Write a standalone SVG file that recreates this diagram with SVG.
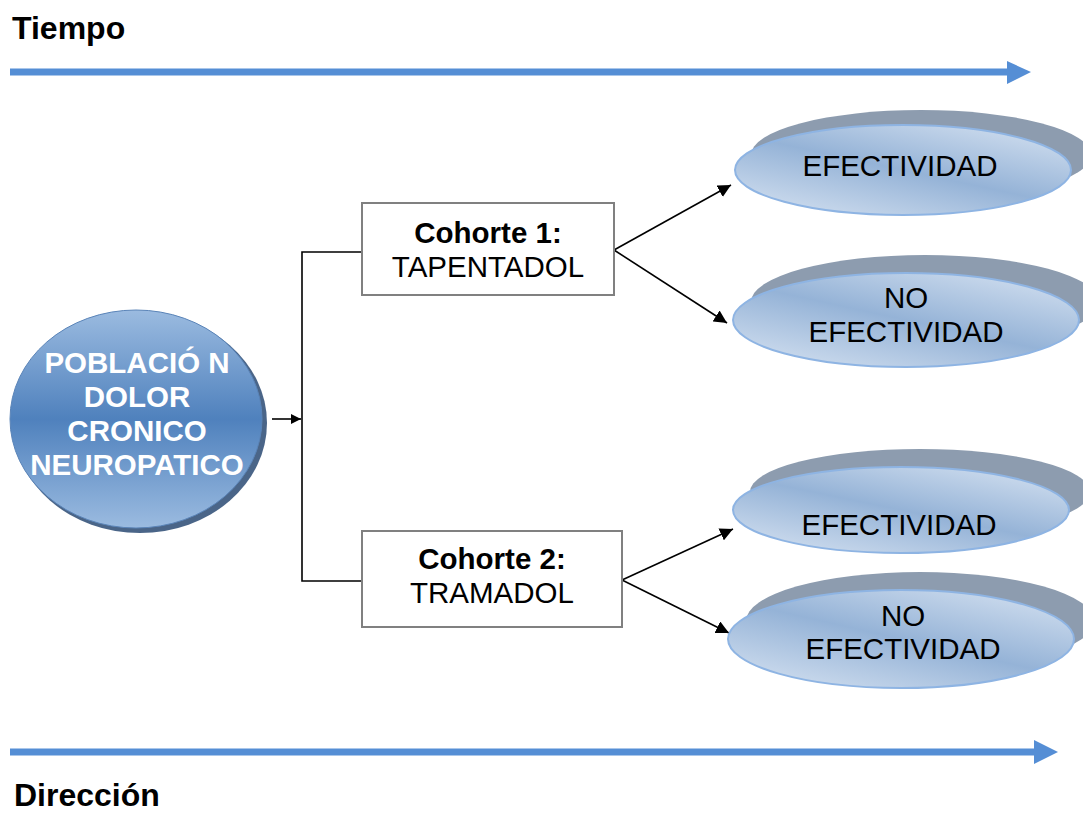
<svg xmlns="http://www.w3.org/2000/svg" width="1083" height="813" viewBox="0 0 1083 813">
<defs>
<linearGradient id="circGrad" x1="0" y1="0" x2="0" y2="1">
<stop offset="0" stop-color="#9bbbe0"/>
<stop offset="0.5" stop-color="#4f81bd"/>
<stop offset="1" stop-color="#9bbbe0"/>
</linearGradient>
<linearGradient id="ellGrad" x1="0.9" y1="0" x2="0.1" y2="1">
<stop offset="0" stop-color="#d3e0f0"/>
<stop offset="0.5" stop-color="#95b3d7"/>
<stop offset="1" stop-color="#d3e0f0"/>
</linearGradient>
<marker id="ah" viewBox="0 0 10 10" refX="10" refY="5" markerWidth="10" markerHeight="10" markerUnits="userSpaceOnUse" orient="auto">
<path d="M0,0 L10,5 L0,10 Z" fill="#000"/>
</marker>
<marker id="ahs" viewBox="0 0 10 10" refX="10" refY="5" markerWidth="13" markerHeight="13" markerUnits="userSpaceOnUse" orient="auto">
<path d="M0,0 L10,5 L0,10 Z" fill="#000"/>
</marker>
</defs>
<style>
.title{font-family:"Liberation Sans",Arial,sans-serif;font-weight:bold;font-size:32px;fill:#000}
.box{fill:#fff;stroke:#808080;stroke-width:2}
.bt{font-family:"Liberation Sans",Arial,sans-serif;font-size:29.5px;fill:#000;text-anchor:middle}
.bold{font-weight:bold}
.ell{fill:url(#ellGrad);stroke:#8eb4e3;stroke-width:2}
.shadow{fill:#8d9caf}
.ct{font-family:"Liberation Sans",Arial,sans-serif;font-size:29.5px;font-weight:bold;fill:#fff;text-anchor:middle}
.conn{stroke:#000;stroke-width:1.6;fill:none}
.blue{stroke:#558ed5;stroke-width:7;fill:none}
</style>
<rect width="1083" height="813" fill="#fff"/>

<g id="timeline-top">
<text class="title" x="12" y="39">Tiempo</text>
<line class="blue" x1="10" y1="72" x2="1008" y2="72"/>
<path d="M1007,61 L1031,72 L1007,84 Z" fill="#558ed5"/>
</g>

<g id="timeline-bottom">
<line class="blue" x1="10" y1="752" x2="1035" y2="752"/>
<path d="M1034,740 L1058,752 L1034,764 Z" fill="#558ed5"/>
<text class="title" x="14" y="806">Dirección</text>
</g>

<g id="connectors">
<line class="conn" x1="272" y1="419" x2="301" y2="419" marker-end="url(#ah)"/>
<polyline class="conn" points="362,252 302,252 302,581 362,581"/>
<line class="conn" x1="614" y1="250" x2="731" y2="185" marker-end="url(#ahs)"/>
<line class="conn" x1="614" y1="250" x2="727" y2="323" marker-end="url(#ahs)"/>
<line class="conn" x1="622" y1="580" x2="733" y2="529" marker-end="url(#ahs)"/>
<line class="conn" x1="622" y1="580" x2="729" y2="633" marker-end="url(#ahs)"/>
</g>

<g id="poblacion">
<ellipse cx="140" cy="423" rx="127" ry="110" fill="#2a4a73" opacity="0.85"/>
<ellipse cx="136" cy="419" rx="126" ry="109" fill="url(#circGrad)" stroke="#5a84b8" stroke-width="1"/>
<text class="ct" x="137" y="373">POBLACIÓ N</text>
<text class="ct" x="137" y="407">DOLOR</text>
<text class="ct" x="137" y="441">CRONICO</text>
<text class="ct" x="137" y="475">NEUROPATICO</text>
</g>

<g id="cohorte1">
<rect class="box" x="362" y="203" width="252" height="92"/>
<text class="bt bold" x="488" y="243">Cohorte 1:</text>
<text class="bt" x="488" y="277">TAPENTADOL</text>
</g>

<g id="cohorte2">
<rect class="box" x="362" y="531" width="260" height="96"/>
<text class="bt bold" x="492" y="569">Cohorte 2:</text>
<text class="bt" x="492" y="603">TRAMADOL</text>
</g>

<g id="efectividad1">
<ellipse class="shadow" cx="921" cy="155" rx="170" ry="45"/>
<ellipse class="ell" cx="903" cy="170" rx="168" ry="45"/>
<text class="bt" x="900" y="176">EFECTIVIDAD</text>
</g>

<g id="noefectividad1">
<ellipse class="shadow" cx="925" cy="302" rx="174" ry="47"/>
<ellipse class="ell" cx="906" cy="320" rx="173" ry="47"/>
<text class="bt" x="906" y="308">NO</text>
<text class="bt" x="906" y="342">EFECTIVIDAD</text>
</g>

<g id="efectividad2">
<ellipse class="shadow" cx="920" cy="492" rx="170" ry="43"/>
<ellipse class="ell" cx="901" cy="510" rx="168" ry="43"/>
<text class="bt" x="899" y="535">EFECTIVIDAD</text>
</g>

<g id="noefectividad2">
<ellipse class="shadow" cx="920" cy="621" rx="174" ry="49"/>
<ellipse class="ell" cx="901" cy="639" rx="173" ry="49"/>
<text class="bt" x="903" y="626">NO</text>
<text class="bt" x="903" y="659">EFECTIVIDAD</text>
</g>
</svg>
